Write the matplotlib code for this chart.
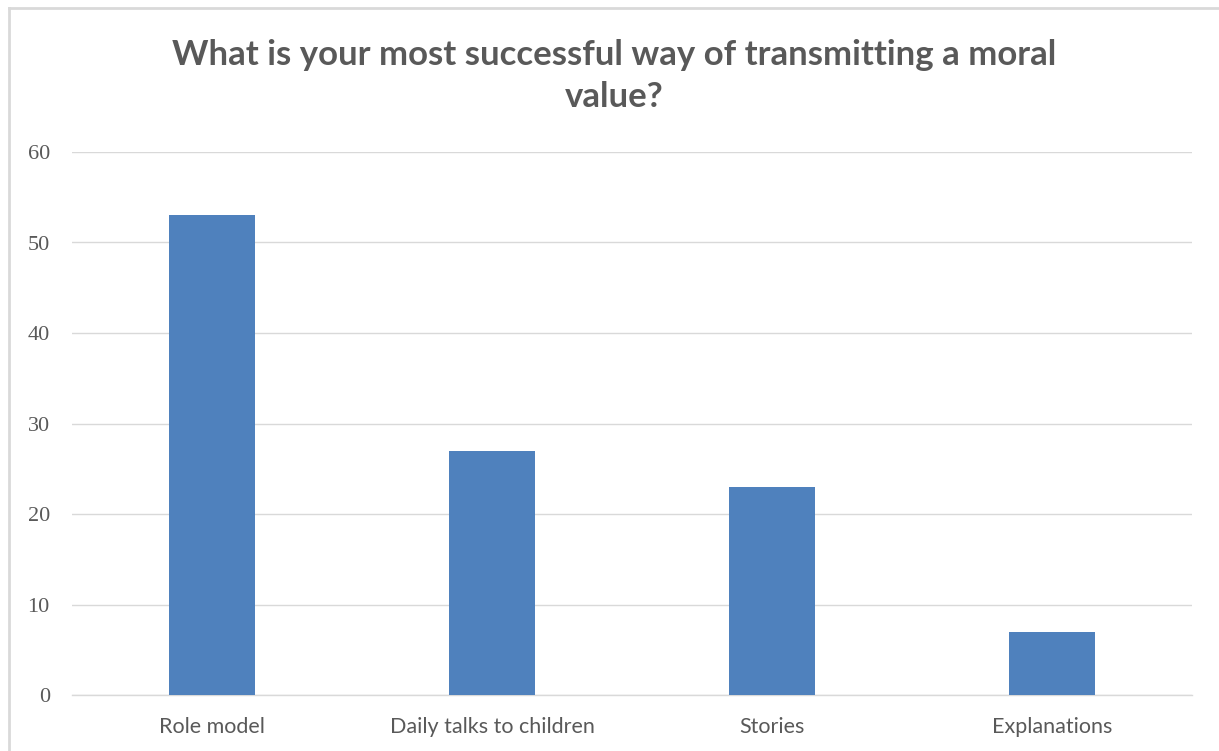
import matplotlib
matplotlib.use("Agg")
import matplotlib.pyplot as plt
from matplotlib.lines import Line2D

categories = ["Role model", "Daily talks to children", "Stories", "Explanations"]
values = [53, 27, 23, 7]
yticks = [0, 10, 20, 30, 40, 50, 60]
title = "What is your most successful way of transmitting a moral\nvalue?"

fig = plt.figure(figsize=(12.19, 7.51), dpi=100)
ax = fig.add_axes([72/1219, 1-695/751, (1192-72)/1219, (695-152)/751])

x = list(range(len(categories)))
ax.bar(x, values, width=0.31, color="#4F81BD", zorder=3)
ax.set_xlim(-0.5, len(categories) - 0.5)
ax.set_ylim(0, 60)
ax.set_yticks(yticks)
ax.set_xticks(x)
ax.set_xticklabels(categories, fontsize=15.5, color="#595959", family="Lato")
for lab in ax.get_yticklabels():
    lab.set_fontfamily("Liberation Serif")
    lab.set_fontsize(16)
    lab.set_color("#595959")
ax.tick_params(axis="both", length=0)
ax.tick_params(axis="y", pad=16)
ax.tick_params(axis="x", pad=16)
ax.grid(axis="y", color="#D9D9D9", linewidth=1, zorder=0)
for s in ["top", "right", "left"]:
    ax.spines[s].set_visible(False)
ax.spines["bottom"].set_color("#D9D9D9")
ax.spines["bottom"].set_linewidth(1)

fig.text(614/1219, 1-76/751, title, ha="center", va="center", fontsize=25,
         fontweight="bold", color="#595959", family="Lato", linespacing=1.42)

# outer chart border (top and left visible)
fig.add_artist(Line2D([9/1219, 1], [1-8/751, 1-8/751], transform=fig.transFigure,
                      color="#D9D9D9", linewidth=2))
fig.add_artist(Line2D([9/1219, 9/1219], [0, 1-8/751], transform=fig.transFigure,
                      color="#D9D9D9", linewidth=2))

fig.savefig("out.png", dpi=100, facecolor="white")
